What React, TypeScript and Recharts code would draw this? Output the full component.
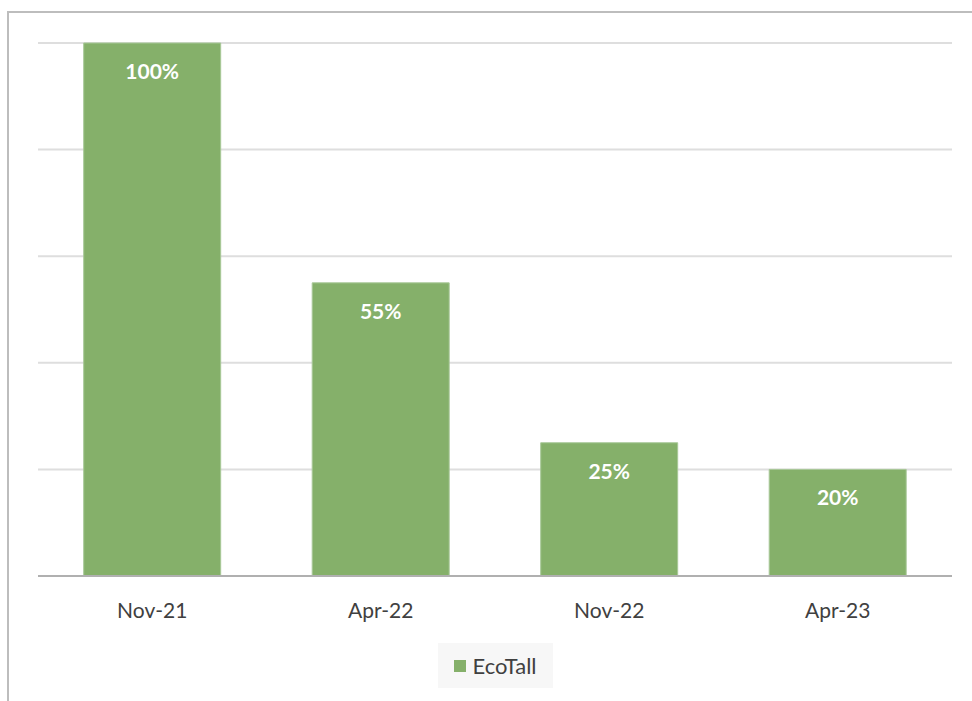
import React from "react";
import { BarChart, Bar, XAxis, YAxis, CartesianGrid, LabelList, Legend } from "recharts";

const categories = ["Nov-21", "Apr-22", "Nov-22", "Apr-23"];
const ecoTallValues = [100, 55, 25, 20];
const yTicks = [0, 20, 40, 60, 80, 100];
const seriesName = "EcoTall";

const data = categories.map((c, i) => ({ name: c, EcoTall: ecoTallValues[i] }));

const GREEN = "#85B06A";
const FONT = "Lato, 'Open Sans', sans-serif";

const LegendContent = () => (
  <div
    style={{
      width: 115,
      height: 45,
      background: "#f7f7f7",
      display: "flex",
      alignItems: "center",
      justifyContent: "center",
      fontFamily: FONT,
      fontSize: 22,
      color: "#404040",
    }}
  >
    <span style={{ width: 12, height: 12, background: GREEN, display: "inline-block", marginRight: 6 }} />
    <span>{seriesName}</span>
  </div>
);

export default function App() {
  return (
    <div style={{ position: "absolute", left: 0, top: 0, width: 972, height: 701, overflow: "hidden", background: "#fff" }}>
      <div
        style={{
          position: "absolute",
          left: 7,
          top: 11,
          width: 1000,
          height: 720,
          border: "2px solid #bdbdbd",
          boxSizing: "border-box",
        }}
      />
      <div style={{ position: "absolute", left: 0, top: 0 }}>
        <BarChart
          width={972}
          height={701}
          data={data}
          margin={{ top: 43, right: 20, left: 38, bottom: 95 }}
          barCategoryGap="20%"
        >
          <CartesianGrid vertical={false} stroke="#dedede" strokeWidth={2} />
          <YAxis hide domain={[0, 100]} ticks={yTicks} />
          <XAxis
            dataKey="name"
            height={30}
            tickLine={false}
            axisLine={{ stroke: "#b0b0b0", strokeWidth: 2 }}
            tickMargin={21}
            tick={{ fill: "#404040", fontSize: 21, fontFamily: FONT }}
          />
          <Legend
            layout="horizontal"
            verticalAlign="middle"
            align="center"
            wrapperStyle={{ top: 643, left: 438, width: 115, height: 45 }}
            content={<LegendContent />}
          />
          <Bar dataKey="EcoTall" name={seriesName} fill={GREEN} stroke="#a8c898" strokeWidth={1} isAnimationActive={false}>
            <LabelList
              dataKey="EcoTall"
              position="insideTop"
              offset={21}
              formatter={(v: number) => `${v}%`}
              style={{ fill: "#ffffff", fontWeight: 700, fontSize: 21, fontFamily: FONT }}
            />
          </Bar>
        </BarChart>
      </div>
    </div>
  );
}
